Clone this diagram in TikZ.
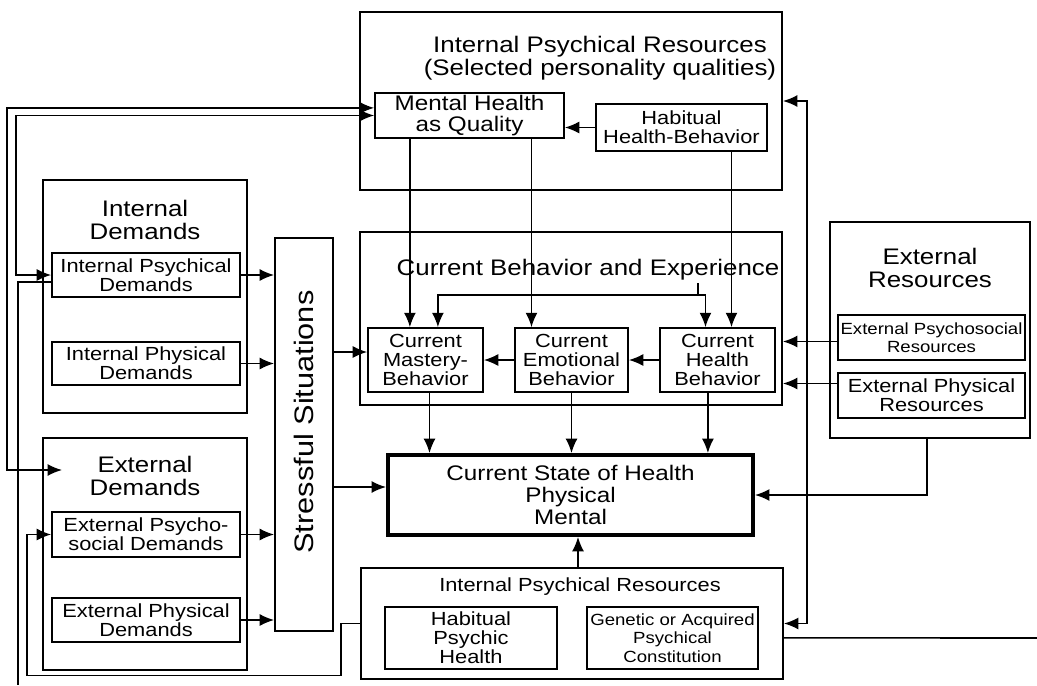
\documentclass[tikz,border=0pt]{standalone}
\usepackage{fontspec}
\setmainfont{Liberation Sans}[FakeStretch=1.15]
\usetikzlibrary{shapes.geometric, arrows.meta, positioning}
\tikzstyle{outerbox} = [rectangle, draw=black, line width=1.3pt, inner sep=0pt]
\tikzstyle{innerbox} = [rectangle, draw=black, line width=1.2pt, align=center, inner sep=1pt, font=\fontsize{13.5}{13.5}\selectfont]
\tikzstyle{statebox} = [rectangle, draw=black, line width=2.8pt, align=center, inner sep=1pt, font=\fontsize{15}{15.5}\selectfont]
\tikzstyle{heading} = [align=center, inner sep=0pt, font=\fontsize{16}{16}\selectfont]
\tikzstyle{arrow} = [line width=1.1pt, -{Latex[length=3.6mm, width=3mm]}]
\tikzstyle{twoway} = [line width=1.1pt, {Latex[length=3.6mm, width=3mm]}-{Latex[length=3.6mm, width=3mm]}]
\tikzstyle{link} = [line width=1.1pt]

\begin{document}
\begin{tikzpicture}[x=0.025cm, y=-0.025cm]
\useasboundingbox (0,0) rectangle (1037,685);

%% Internal psychical resources (top)
\node (topres)   [outerbox, minimum width=10.55cm, minimum height=4.45cm] at (571,101) {};
\node (toptitle) [heading] at (600,58) {Internal Psychical Resources\\(Selected personality qualities)};
\node (mentalq)  [innerbox, minimum width=4.725cm, minimum height=1.125cm, font=\fontsize{15}{15}\selectfont] at (469.5,115.5) {Mental Health\\as Quality};
\node (habhb)    [innerbox, minimum width=4.275cm, minimum height=1.175cm] at (681.5,127.5) {Habitual\\Health-Behavior};

%% Demands (left)
\node (intdem)   [outerbox, minimum width=5.1cm, minimum height=5.825cm] at (145,296.5) {};
\node (intdemt)  [heading] at (145,220) {Internal\\Demands};
\node (intpsy)   [innerbox, minimum width=4.7cm, minimum height=1.1cm] at (146,275) {Internal Psychical\\Demands};
\node (intphy)   [innerbox, minimum width=4.7cm, minimum height=1.075cm] at (146,363.5) {Internal Physical\\Demands};
\node (extdem)   [outerbox, minimum width=5.1cm, minimum height=5.8cm] at (145,554) {};
\node (extdemt)  [heading] at (145,476) {External\\Demands};
\node (extpsy)   [innerbox, minimum width=4.7cm, minimum height=1.125cm] at (146,534.5) {External Psycho-\\social Demands};
\node (extphy)   [innerbox, minimum width=4.7cm, minimum height=1.1cm] at (146,620) {External Physical\\Demands};

\node (stress)   [outerbox, minimum width=1.45cm, minimum height=9.825cm] at (304,434.5) {};
\node (stresst)  [heading, rotate=90, font=\fontsize{19}{19}\selectfont] at (304,422) {Stressful Situations};

%% Current behavior and experience
\node (curbeh)   [outerbox, minimum width=10.55cm, minimum height=4.325cm] at (571,318.5) {};
\node (curbeht)  [heading] at (588,270) {Current Behavior and Experience};
\node (mastery)  [innerbox, minimum width=2.875cm, minimum height=1.6cm] at (425.5,360) {Current\\Mastery-\\Behavior};
\node (emotional)[innerbox, minimum width=2.825cm, minimum height=1.6cm] at (571.5,360) {Current\\Emotional\\Behavior};
\node (healthb)  [innerbox, minimum width=2.875cm, minimum height=1.6cm] at (717.5,360) {Current\\Health\\Behavior};

%% External resources (right)
\node (extres)   [outerbox, minimum width=5cm, minimum height=5.4cm] at (930,330) {};
\node (extrest)  [heading] at (930,268) {External\\Resources};
\node (extpsyres)[innerbox, minimum width=4.675cm, minimum height=1.125cm, font=\fontsize{11.5}{13}\selectfont] at (931.5,337.5) {External Psychosocial\\Resources};
\node (extphyres)[innerbox, minimum width=4.675cm, minimum height=1.125cm] at (931.5,395.5) {External Physical\\Resources};

%% State of health and internal psychical resources (bottom)
\node (curstate) [statebox, minimum width=9.125cm, minimum height=2cm] at (570.5,495) {Current State of Health\\Physical\\Mental};
\node (botres)   [outerbox, minimum width=10.55cm, minimum height=2.775cm] at (572,623.5) {};
\node (botrest)  [heading, font=\fontsize{13.5}{14}\selectfont] at (580,587) {Internal Psychical Resources};
\node (habpsy)   [innerbox, minimum width=4.3cm, minimum height=1.55cm] at (471,638) {Habitual\\Psychic\\Health};
\node (genetic)  [innerbox, minimum width=4.275cm, minimum height=1.55cm, font=\fontsize{11.5}{13}\selectfont] at (672.5,638) {Genetic or Acquired\\Psychical\\Constitution};

\coordinate (fbtop)    at (698,283);
\coordinate (fbjoin)   at (698,295);
\coordinate (extdemin) at (62,470);
\coordinate (offleft)  at (18,685);
\coordinate (offright) at (1037,638);

%% Draw the connectivity.
\draw [arrow]  (habhb.west) -- (habhb.west -| mentalq.east);
\draw [twoway] (mentalq.west) -- ++(-358,0) |- (intpsy.west);
\draw [twoway] ([yshift=0.19cm]mentalq.west) -- ++(-367,0) |- (extdemin);
\draw [link]   ([yshift=-0.18cm]intpsy.west) -| (offleft);
\draw [arrow]  (botres.west) -- ++(-19,0) -- ++(0,52) -| ([xshift=-0.6cm]extpsy.west) -- (extpsy.west);

\draw [arrow]  (intpsy.east) -- (intpsy.east -| stress.west);
\draw [arrow]  (intphy.east) -- (intphy.east -| stress.west);
\draw [arrow]  (extpsy.east) -- (extpsy.east -| stress.west);
\draw [arrow]  (extphy.east) -- (extphy.east -| stress.west);
\draw [arrow]  ([yshift=0.2cm]mastery.west -| stress.east) -- ([yshift=0.2cm]mastery.west);
\draw [arrow]  ([yshift=0.2cm]curstate.west -| stress.east) -- ([yshift=0.2cm]curstate.west);

\draw [arrow]  ([xshift=-0.39cm]mastery.north |- mentalq.south) -- ([xshift=-0.39cm]mastery.north);
\draw [arrow]  ([xshift=-1cm]emotional.north |- mentalq.south) -- ([xshift=-1cm]emotional.north);
\draw [arrow]  ([xshift=0.35cm]healthb.north |- habhb.south) -- ([xshift=0.35cm]healthb.north);
\draw [arrow]  (fbtop) -- (fbjoin) -| ([xshift=0.31cm]mastery.north);
\draw [arrow]  (fbjoin) -| ([xshift=-0.3cm]healthb.north);
\draw [arrow]  (emotional.west) -- (mastery.east);
\draw [arrow]  (healthb.west) -- (emotional.east);

\draw [arrow]  ([xshift=0.1cm]mastery.south) -- ([xshift=0.1cm]mastery.south |- curstate.north);
\draw [arrow]  (emotional.south) -- (emotional.south |- curstate.north);
\draw [arrow]  ([xshift=-0.24cm]healthb.south) -- ([xshift=-0.24cm]healthb.south |- curstate.north);

\draw [arrow]  ([yshift=-0.1cm]extpsyres.west) -- ([yshift=-0.1cm]extpsyres.west -| curbeh.east);
\draw [arrow]  ([yshift=0.3cm]extphyres.west) -- ([yshift=0.3cm]extphyres.west -| curbeh.east);
\draw [arrow]  ([xshift=-0.075cm]extres.south) |- (curstate.east);

\draw [twoway] (topres.east) -- ++(24,0) |- (botres.east);
\draw [link]   ([yshift=-0.36cm]botres.east) -- (offright);
\draw [arrow]  ([xshift=0.15cm]botres.north) -- ([xshift=0.15cm]botres.north |- curstate.south);
\end{tikzpicture}
\end{document}
